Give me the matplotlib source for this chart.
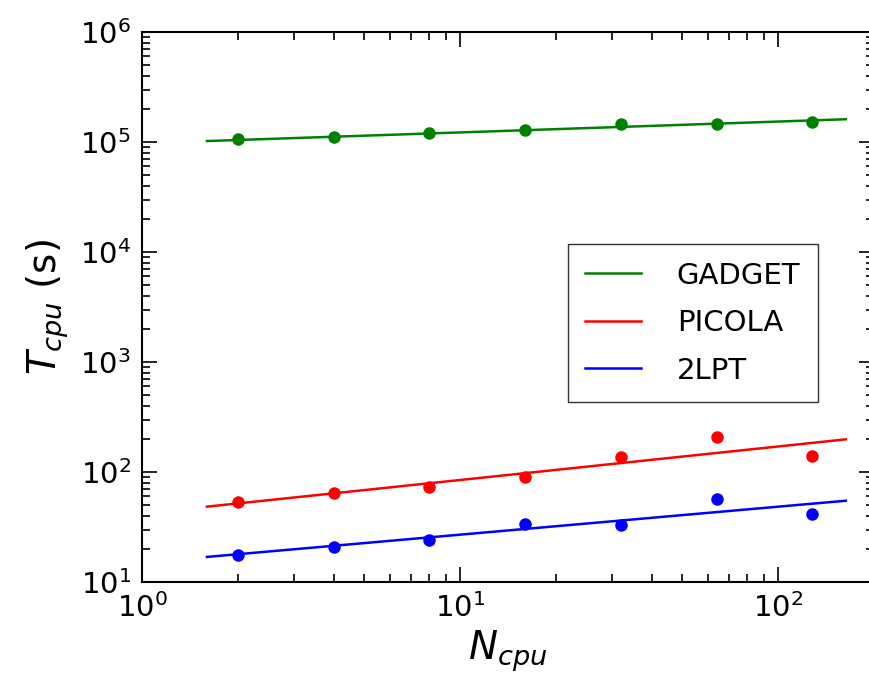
import matplotlib
matplotlib.use('Agg')
import matplotlib.pyplot as plt

# number of CPUs used in each run
n_cpu = [2, 4, 8, 16, 32, 64, 128]

# measured CPU time (s)
t_gadget = [1.065e5, 1.11e5, 1.21e5, 1.29e5, 1.46e5, 1.47e5, 1.52e5]
t_picola = [53, 64, 73.6, 90.6, 138, 207, 139]
t_2lpt = [17.6, 20.8, 24.1, 33.9, 33.0, 57, 41.5]

# power-law fits, given at the end points of the fitted range
fit_n = [1.6, 163]
fit_gadget = [1.02e5, 1.61e5]
fit_picola = [48.4, 198]
fit_2lpt = [16.9, 54.8]

fig = plt.figure(figsize=(8.7, 6.75), dpi=100)
ax = fig.add_axes([142 / 870, 1 - 582 / 675, 732 / 870, 550 / 675])

series = [
    ('GADGET', 'green', t_gadget, fit_gadget),
    ('PICOLA', 'red', t_picola, fit_picola),
    ('2LPT', 'blue', t_2lpt, fit_2lpt),
]
for name, color, t, fit in series:
    ax.plot(fit_n, fit, color=color, lw=1.8, label=name)
    ax.plot(n_cpu, t, 'o', color=color, ms=9, mec='none')

ax.set_xscale('log')
ax.set_yscale('log')
ax.set_xlim(1, 200)
ax.set_ylim(10, 1e6)

ax.tick_params(which='both', direction='in', top=True, right=True,
               labelsize=21, pad=8)
ax.tick_params(which='major', length=11, width=1.2)
ax.tick_params(which='minor', length=5.5, width=1.2)
for s in ax.spines.values():
    s.set_linewidth(1.5)

ax.set_xlabel('$N_{cpu}$', fontsize=28, labelpad=4)
ax.set_ylabel('$T_{cpu}$ (s)', fontsize=28, labelpad=6)

leg = ax.legend(loc='lower right', bbox_to_anchor=(0.923, 0.327),
                borderaxespad=0, fontsize=21, frameon=True, fancybox=False,
                handlelength=1.9, handletextpad=1.23, labelspacing=0.67,
                borderpad=0.6)
leg.get_frame().set_edgecolor('black')
leg.get_frame().set_linewidth(1.0)

fig.savefig('out.png', dpi=100)
